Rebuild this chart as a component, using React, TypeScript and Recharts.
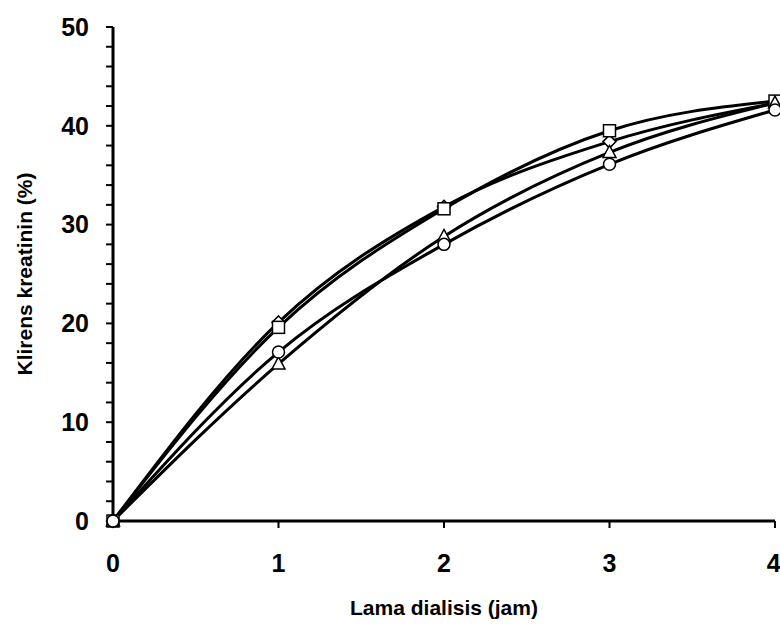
import React from 'react';
import { LineChart, Line, XAxis, YAxis, Label } from 'recharts';

// hours of dialysis
const hours = [0, 1, 2, 3, 4];
// creatinine clearance (%) per series
const seriesDiamond = [0, 20.1, 31.8, 38.4, 42.3];
const seriesSquare = [0, 19.6, 31.6, 39.5, 42.5];
const seriesTriangle = [0, 15.9, 28.8, 37.3, 42.3];
const seriesCircle = [0, 17.1, 28.0, 36.1, 41.6];

const xTicks = [0, 1, 2, 3, 4];
const yTicks = [0, 2, 4, 6, 8, 10, 12, 14, 16, 18, 20, 22, 24, 26, 28, 30, 32, 34, 36, 38, 40, 42, 44, 46, 48, 50];

const data = hours.map((h, i) => ({
  jam: h,
  diamond: seriesDiamond[i],
  square: seriesSquare[i],
  triangle: seriesTriangle[i],
  circle: seriesCircle[i],
}));

const FONT = 'Liberation Sans, Arial, sans-serif';
const markerStroke = { fill: '#fff', stroke: '#000', strokeWidth: 1.5 };

const DiamondDot = (props: any) => {
  const { cx, cy } = props;
  const r = 6.5;
  return <polygon key={props.key} points={`${cx},${cy - r} ${cx + r},${cy} ${cx},${cy + r} ${cx - r},${cy}`} {...markerStroke} />;
};

const SquareDot = (props: any) => {
  const { cx, cy } = props;
  return <rect key={props.key} x={cx - 6} y={cy - 6} width={12} height={12} {...markerStroke} />;
};

const TriangleDot = (props: any) => {
  const { cx, cy } = props;
  return <polygon key={props.key} points={`${cx},${cy - 7} ${cx + 6.5},${cy + 5} ${cx - 6.5},${cy + 5}`} {...markerStroke} />;
};

const CircleDot = (props: any) => {
  const { cx, cy } = props;
  return <circle key={props.key} cx={cx} cy={cy} r={6} {...markerStroke} />;
};

const tickStyle = { fontFamily: FONT, fontSize: 25, fontWeight: 700, fill: '#000' };
const titleStyle = { fontFamily: FONT, fontSize: 21, fontWeight: 700, fill: '#000' };

export default function App() {
  return (
    <div style={{ position: 'absolute', left: 0, top: 0, background: '#fff' }}>
      <LineChart width={780} height={625} data={data} margin={{ top: 27, right: 5, bottom: 0, left: 0 }}>
        <XAxis
          dataKey="jam"
          type="number"
          domain={[0, 4]}
          ticks={xTicks}
          height={104}
          tickSize={7}
          tickMargin={26}
          tick={tickStyle}
          axisLine={{ stroke: '#000', strokeWidth: 3 }}
          tickLine={{ stroke: '#000', strokeWidth: 2 }}
        >
          <Label value="Lama dialisis (jam)" position="insideBottom" offset={10} style={titleStyle} />
        </XAxis>
        <YAxis
          type="number"
          domain={[0, 50]}
          ticks={yTicks}
          interval={0}
          width={113}
          tickSize={7}
          tickMargin={17}
          tick={tickStyle}
          tickFormatter={(v: number) => (v % 10 === 0 ? String(v) : '')}
          axisLine={{ stroke: '#000', strokeWidth: 3 }}
          tickLine={{ stroke: '#000', strokeWidth: 2 }}
        >
          <Label
            value="Klirens kreatinin (%)"
            angle={-90}
            position="insideLeft"
            offset={25}
            style={{ ...titleStyle, textAnchor: 'middle' }}
          />
        </YAxis>
        <Line type="monotone" dataKey="diamond" stroke="#000" strokeWidth={3} dot={DiamondDot} isAnimationActive={false} />
        <Line type="monotone" dataKey="square" stroke="#000" strokeWidth={3} dot={SquareDot} isAnimationActive={false} />
        <Line type="monotone" dataKey="triangle" stroke="#000" strokeWidth={3} dot={TriangleDot} isAnimationActive={false} />
        <Line type="monotone" dataKey="circle" stroke="#000" strokeWidth={3} dot={CircleDot} isAnimationActive={false} />
      </LineChart>
    </div>
  );
}
